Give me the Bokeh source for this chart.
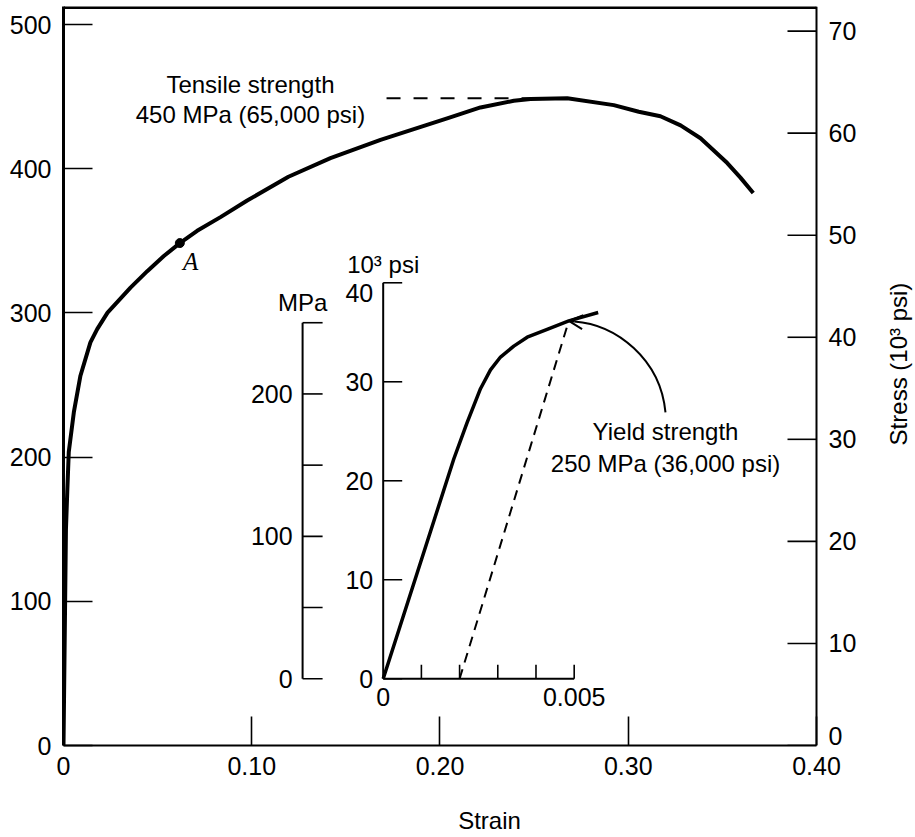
import math
from bokeh.plotting import figure
from bokeh.models import (Range1d, FixedTicker, CustomJSTickFormatter, Arrow, OpenHead)
from bokeh.embed import file_html
from bokeh.resources import INLINE
from bokeh.core.properties import value

# ---------------- data ----------------
strain = [0, 0.0013, 0.0020, 0.0028, 0.0055, 0.0090, 0.0143, 0.0179, 0.0234, 0.0267,
          0.0356, 0.0445, 0.0533, 0.0618, 0.0710, 0.0834, 0.0976, 0.1195, 0.1418,
          0.1684, 0.1861, 0.2038, 0.2215, 0.2392, 0.2481, 0.2676, 0.2923, 0.3056,
          0.3171, 0.3278, 0.3384, 0.3526, 0.3596, 0.3664]
stress_mpa = [0, 150, 176, 203.6, 231.2, 256.5, 279.6, 288.8, 300.3, 304.9,
              317.6, 329, 339.5, 348.5, 357, 366.5, 378, 394.5, 407.4,
              420.1, 427.5, 435, 442.6, 447.2, 448.4, 448.9, 444.2, 439.6,
              436.5, 430.1, 421.2, 404.0, 393.9, 383.2]

point_a_strain = [0.0618]
point_a_mpa = [348.5]
tensile_mpa = 449
tensile_dash_strain = [0.1716, 0.2676]

inset_strain = [0, 0.001848, 0.002199, 0.002372, 0.002547, 0.002809, 0.003071,
                0.003419, 0.003770, 0.004293, 0.004859, 0.005628]
inset_ksi = [0, 22.2, 25.9, 27.6, 29.3, 31.2, 32.5, 33.6, 34.5, 35.3, 36.15, 37.0]
offset_line_strain = [0.002, 0.004859]
offset_line_ksi = [0, 36.15]

x_ticks = [0, 0.1, 0.2, 0.3, 0.4]
mpa_ticks = [0, 100, 200, 300, 400, 500]
ksi_ticks = [0, 10, 20, 30, 40, 50, 60, 70]
ksi_label_shift = [-10, 0, 0, 0, 0, 0, 0, 0]
inset_ksi_ticks = [0, 10, 20, 30, 40]
inset_ksi_label_shift = [0, 0, 0, 0, 10]
inset_mpa_ticks = [0, 50, 100, 150, 200, 250]
inset_mpa_labels = [0, 100, 200]
inset_strain_ticks = [0.001, 0.002, 0.003, 0.004, 0.005]
inset_strain_label_pos = [0, 0.005]
inset_strain_label_txt = ["0", "0.005"]

# ranges / annotation anchors
X_MAX = 0.4                 # end of the strain scale (right frame edge)
Y_TOP = 512.6               # top of the MPa scale (top frame edge)
KSI_TOP = 72.41
inset_mpa_axis_at = -0.00211
arrow_curve = dict(x0=0.00739, y0=26.9, cx0=0.00726, cy0=32.3,
                   cx1=0.00610, cy1=35.8, x1=0.00500, y1=36.1)

FONT = "Liberation Sans"

p = figure(width=915, height=836, x_range=Range1d(0, 0.45259), y_range=Range1d(0, Y_TOP),
           output_backend="svg", toolbar_location=None,
           min_border_left=63, min_border_right=0, min_border_top=6, min_border_bottom=88,
           x_axis_label="Strain")
p.grid.visible = False
p.outline_line_color = None
p.background_fill_color = "white"
p.border_fill_color = "white"

p.extra_y_ranges = {"ksi": Range1d(0, KSI_TOP),
                    "ipsi": Range1d(-6.74, 67.907),
                    "impa": Range1d(-46.85, 472.03)}
p.extra_x_ranges = {"ix": Range1d(-0.008369, 0.013935)}

bottom = p.below[0]
left = p.left[0]
bottom.ticker = FixedTicker(ticks=x_ticks)
bottom.bounds = (0, X_MAX)
bottom.formatter = CustomJSTickFormatter(code="return tick == 0 ? '0' : tick.toFixed(2);")
left.ticker = FixedTicker(ticks=mpa_ticks)

for ax in (bottom, left):
    ax.major_tick_in = 29
    ax.major_tick_out = 0
    ax.minor_tick_line_color = None
    ax.major_tick_line_width = 1.6
    ax.major_tick_line_color = "black"
    ax.axis_line_color = "black"
    ax.major_label_text_font = FONT
    ax.major_label_text_font_size = "25px"
    ax.major_label_text_color = "black"
    ax.axis_label_text_font = FONT
    ax.axis_label_text_font_size = "24px"
    ax.axis_label_text_font_style = "normal"
    ax.axis_label_text_color = "black"
left.axis_line_width = 3
bottom.axis_line_width = 2
left.major_label_standoff = 12
bottom.major_label_standoff = 11
bottom.axis_label_standoff = 29

# frame: top and right edges
p.line([0, X_MAX], [Y_TOP, Y_TOP], line_width=5, color="black")
p.line([X_MAX, X_MAX], [0, Y_TOP], line_width=2, color="black")

# right-hand stress scale in 10^3 psi
kr = dict(y_range_name="ksi")
p.ray(x=[X_MAX] * len(ksi_ticks), y=ksi_ticks, length=29, length_units="screen",
      angle=math.pi, line_width=1.6, color="black", **kr)
p.text(x=[X_MAX] * len(ksi_ticks), y=ksi_ticks, text=[str(t) for t in ksi_ticks],
       x_offset=12, y_offset=ksi_label_shift, text_font=value(FONT), text_font_size="25px",
       text_align="left", text_baseline="middle", text_color="black", **kr)
p.text(x=[0.4436], y=[264.6], text=["Stress (10³ psi)"], angle=math.pi / 2,
       text_font=value(FONT), text_font_size="24px", text_align="center",
       text_baseline="middle", text_color="black")

# ---------------- main curve ----------------
p.line(strain, stress_mpa, line_width=4, color="black", line_join="round")
p.scatter(point_a_strain, point_a_mpa, size=9, color="black")
p.text(x=[0.0675], y=[336.0], text=["A"], text_font=value("Liberation Serif"),
       text_font_style="italic", text_font_size="25px", text_align="center",
       text_baseline="middle", text_color="black")

p.line(tensile_dash_strain, [tensile_mpa, tensile_mpa], line_dash="14 13",
       line_width=2, color="black")
p.text(x=[0.0993, 0.0993], y=[458.7, 438.0],
       text=["Tensile strength", "450 MPa (65,000 psi)"],
       text_font=value(FONT), text_font_size="24px", text_align="center",
       text_baseline="middle", text_color="black")

# ---------------- inset ----------------
ik = dict(x_range_name="ix", y_range_name="ipsi")
im = dict(x_range_name="ix", y_range_name="impa")

p.line(inset_strain, inset_ksi, line_width=3.5, color="black", line_join="round", **ik)
p.line(offset_line_strain, offset_line_ksi, line_dash="10 7", line_width=2,
       color="black", **ik)

# ksi scale
p.line([0, 0], [inset_ksi_ticks[0], inset_ksi_ticks[-1]], line_width=2, color="black", **ik)
p.ray(x=[0] * len(inset_ksi_ticks), y=inset_ksi_ticks, length=19, length_units="screen",
      angle=0, line_width=1.6, color="black", **ik)
p.text(x=[0] * len(inset_ksi_ticks), y=inset_ksi_ticks,
       text=[str(t) for t in inset_ksi_ticks], x_offset=-10, y_offset=inset_ksi_label_shift,
       text_font=value(FONT), text_font_size="25px", text_align="right",
       text_baseline="middle", text_color="black", **ik)
p.text(x=[0], y=[inset_ksi_ticks[-1]], text=["10³ psi"], y_offset=-18,
       text_font=value(FONT), text_font_size="24px", text_align="center",
       text_baseline="alphabetic", text_color="black", **ik)

# MPa scale
p.line([inset_mpa_axis_at] * 2, [inset_mpa_ticks[0], inset_mpa_ticks[-1]],
       line_width=2, color="black", **im)
p.ray(x=[inset_mpa_axis_at] * len(inset_mpa_ticks), y=inset_mpa_ticks, length=20,
      length_units="screen", angle=0, line_width=1.6, color="black", **im)
p.text(x=[inset_mpa_axis_at] * len(inset_mpa_labels), y=inset_mpa_labels,
       text=[str(t) for t in inset_mpa_labels], x_offset=-10,
       text_font=value(FONT), text_font_size="25px", text_align="right",
       text_baseline="middle", text_color="black", **im)
p.text(x=[inset_mpa_axis_at], y=[inset_mpa_ticks[-1]], text=["MPa"], y_offset=-20,
       text_font=value(FONT), text_font_size="24px", text_align="center",
       text_baseline="alphabetic", text_color="black", **im)

# strain scale
p.line([0, inset_strain_ticks[-1]], [0, 0], line_width=2, color="black", **ik)
p.ray(x=inset_strain_ticks, y=[0] * len(inset_strain_ticks), length=14,
      length_units="screen", angle=math.pi / 2, line_width=1.6, color="black", **ik)
p.text(x=inset_strain_label_pos, y=[0, 0], text=inset_strain_label_txt, y_offset=9,
       text_font=value(FONT), text_font_size="25px", text_align="center",
       text_baseline="top", text_color="black", **ik)

# yield strength annotation
p.bezier(x0=[arrow_curve["x0"]], y0=[arrow_curve["y0"]], x1=[arrow_curve["x1"]],
         y1=[arrow_curve["y1"]], cx0=[arrow_curve["cx0"]], cy0=[arrow_curve["cy0"]],
         cx1=[arrow_curve["cx1"]], cy1=[arrow_curve["cy1"]], line_width=2,
         color="black", **ik)
p.add_layout(Arrow(x_start=arrow_curve["x1"], y_start=arrow_curve["y1"],
                   x_end=offset_line_strain[-1], y_end=offset_line_ksi[-1],
                   end=OpenHead(size=14, line_width=2, line_color="black"),
                   line_width=2, line_color="black", **ik))
p.text(x=[0.3198, 0.3198], y=[217.6, 195.5],
       text=["Yield strength", "250 MPa (36,000 psi)"],
       text_font=value(FONT), text_font_size="24px", text_align="center",
       text_baseline="middle", text_color="black")

open("out.html", "w").write(file_html(p, INLINE))
